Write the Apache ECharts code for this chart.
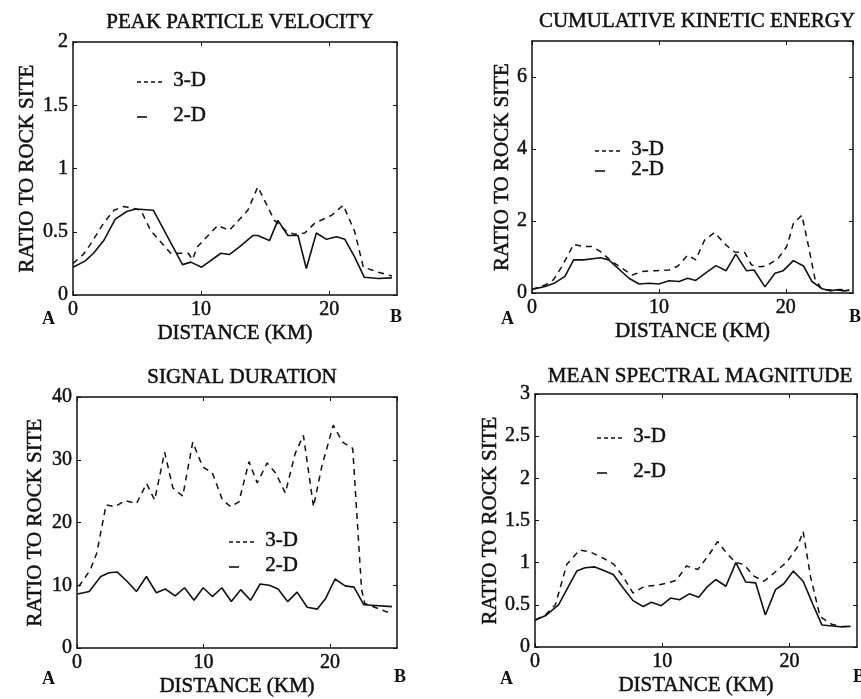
<!DOCTYPE html>
<html lang="en">
<head>
<meta charset="UTF-8">
<title>Ratio to rock site</title>
<script src="https://cdn.jsdelivr.net/npm/echarts@6/dist/echarts.min.js"></script>
<style>
body{margin:0;padding:0;background:#fff;}
#main{width:861px;height:699px;}
</style>
</head>
<body>
<div id="main"></div>
<script type="text/javascript">
// peak particle velocity
var ppvKm2d = [0, 0.96, 1.6, 2.4, 3.3, 4.2, 4.9, 6.27, 8.55, 9.2, 10.04, 11.55, 12.2, 13.0, 14.04, 14.43, 15.34, 16.0, 16.78, 17.57, 18.22, 19.0, 19.8, 20.57, 21.23, 22.0, 22.75, 23.84, 24.9];
var ppv2d   = [0.22, 0.27, 0.33, 0.43, 0.6, 0.66, 0.68, 0.67, 0.24, 0.26, 0.22, 0.33, 0.32, 0.38, 0.47, 0.47, 0.43, 0.59, 0.47, 0.47, 0.21, 0.49, 0.44, 0.46, 0.44, 0.30, 0.14, 0.13, 0.135];
var ppvKm3d = [0, 0.8, 1.36, 2.4, 3.2, 3.97, 4.9, 5.3, 6.06, 7.63, 8.4, 9.0, 9.33, 9.7, 11.3, 12.2, 13.65, 14.43, 15.73, 16.7, 17.3, 18.1, 18.9, 20.2, 21.1, 22.0, 22.67, 23.85, 24.9];
var ppv3d   = [0.25, 0.32, 0.4, 0.57, 0.67, 0.70, 0.68, 0.67, 0.51, 0.33, 0.33, 0.33, 0.28, 0.38, 0.55, 0.51, 0.67, 0.855, 0.59, 0.50, 0.48, 0.49, 0.57, 0.63, 0.71, 0.50, 0.22, 0.18, 0.15];

// cumulative kinetic energy
var ckeKm2d = [0, 1.03, 1.8, 2.6, 3.28, 4.07, 5.4, 6.05, 7.64, 8.44, 9.23, 10.0, 10.8, 11.6, 12.27, 12.9, 13.86, 14.5, 15.3, 16.06, 16.9, 17.5, 18.36, 19.15, 19.8, 20.6, 21.4, 22.06, 22.85, 23.5, 24.0, 24.6, 25.0];
var cke2d   = [0.1, 0.18, 0.28, 0.46, 0.92, 0.92, 0.98, 0.92, 0.41, 0.25, 0.27, 0.25, 0.34, 0.32, 0.41, 0.35, 0.6, 0.76, 0.62, 1.08, 0.62, 0.64, 0.17, 0.55, 0.62, 0.9, 0.75, 0.32, 0.12, 0.06, 0.09, 0.06, 0.08];
var ckeKm3d = [0, 1.03, 1.7, 2.35, 3.28, 4.07, 4.7, 5.4, 6.3, 7.9, 8.7, 9.76, 10.8, 11.5, 12.27, 12.9, 13.6, 14.39, 15.3, 15.97, 16.77, 17.3, 17.96, 18.5, 19.4, 20.08, 20.6, 21.27, 21.8, 22.3, 22.85, 23.6, 24.3, 25.0];
var cke3d   = [0.1, 0.22, 0.37, 0.73, 1.35, 1.29, 1.29, 1.15, 0.87, 0.5, 0.6, 0.62, 0.64, 0.75, 1.05, 0.92, 1.47, 1.68, 1.33, 1.14, 1.12, 0.78, 0.73, 0.75, 0.96, 1.29, 1.93, 2.16, 1.29, 0.4, 0.1, 0.08, 0.1, 0.07];

// signal duration
var sdKm2d = [0.05, 0.96, 1.88, 2.53, 3.19, 3.97, 4.7, 5.49, 6.27, 6.98, 7.76, 8.5, 9.25, 9.98, 10.7, 11.45, 12.2, 12.94, 13.72, 14.48, 15.2, 15.9, 16.65, 17.4, 18.2, 19.0, 19.66, 20.4, 21.2, 21.9, 22.67, 24.9];
var sd2d   = [8.6, 9.0, 11.4, 12.0, 12.1, 10.6, 9.0, 11.4, 8.8, 9.4, 8.3, 9.6, 7.6, 9.6, 8.2, 9.6, 7.4, 9.3, 7.6, 10.2, 10.0, 9.4, 7.4, 8.9, 6.5, 6.2, 7.9, 11.0, 9.9, 9.7, 6.9, 6.6];
var sdKm3d = [0.13, 1.04, 1.56, 2.3, 3.0, 3.8, 4.7, 5.5, 6.14, 6.93, 7.58, 8.36, 9.15, 9.93, 10.7, 11.5, 12.16, 12.8, 13.6, 14.25, 15.03, 15.7, 16.47, 17.25, 17.9, 18.7, 19.35, 20.26, 21.0, 21.8, 22.5, 22.75, 24.05, 24.97];
var sd3d   = [9.8, 12.4, 15.1, 22.8, 22.5, 23.5, 23.0, 26.2, 23.6, 31.2, 25.5, 24.2, 32.8, 28.9, 27.9, 23.6, 22.5, 23.3, 29.7, 26.3, 29.5, 27.9, 24.7, 31.0, 33.9, 22.5, 28.9, 35.5, 32.8, 31.8, 9.3, 7.1, 6.1, 5.4];

// mean spectral magnitude
var msmKm2d = [0.03, 0.81, 1.85, 2.63, 3.28, 3.93, 4.7, 5.36, 6.15, 6.93, 7.7, 8.5, 9.14, 9.92, 10.65, 11.35, 12.13, 12.86, 13.57, 14.2, 15.0, 15.78, 16.56, 17.34, 18.1, 18.9, 19.55, 20.3, 21.07, 21.85, 22.55, 24.0, 24.8];
var msm2d   = [0.32, 0.37, 0.5, 0.72, 0.9, 0.94, 0.95, 0.91, 0.86, 0.7, 0.55, 0.48, 0.53, 0.49, 0.58, 0.56, 0.63, 0.59, 0.72, 0.8, 0.72, 1.0, 0.77, 0.76, 0.38, 0.68, 0.75, 0.9, 0.78, 0.5, 0.26, 0.24, 0.245];
var msmKm3d = [0.03, 0.81, 1.6, 2.5, 3.5, 4.3, 5.4, 6.2, 6.9, 7.7, 8.6, 9.5, 10.4, 11.1, 11.9, 12.8, 13.7, 14.35, 15.13, 15.78, 16.4, 17.2, 17.99, 18.8, 19.8, 20.6, 21.07, 21.64, 22.4, 23.3, 24.1, 24.8];
var msm3d   = [0.32, 0.38, 0.5, 0.98, 1.15, 1.13, 1.05, 0.98, 0.84, 0.64, 0.72, 0.73, 0.76, 0.79, 0.96, 0.92, 1.1, 1.25, 1.1, 1.0, 0.98, 0.84, 0.78, 0.88, 1.01, 1.18, 1.37, 0.84, 0.36, 0.27, 0.24, 0.245];

var titles = ['PEAK PARTICLE VELOCITY', 'CUMULATIVE KINETIC ENERGY', 'SIGNAL DURATION', 'MEAN SPECTRAL MAGNITUDE'];
var yMax = [2, 7, 40, 3];
var yStep = [0.5, 2, 10, 0.5];
var xTicks = 10;
var xMax = 25.3;

var FONT = 'Liberation Serif';
var INK = '#111';
// scanned print looks a bit heavy, thicken text with a thin outline
var heavy = {textBorderColor: INK, textBorderWidth: 0.5};

var panels = [
    {left: 73,  top: 42,  width: 324, height: 253, km2: ppvKm2d, v2: ppv2d, km3: ppvKm3d, v3: ppv3d, gap: 35,
     leg: [137, 82, 117], title: [235, 7], ab: [48, 397, 320]},
    {left: 532, top: 41,  width: 321, height: 252, km2: ckeKm2d, v2: cke2d, km3: ckeKm3d, v3: cke3d, gap: 19,
     leg: [595, 151, 171], title: [692, 6], ab: [507, 856, 320]},
    {left: 77,  top: 397, width: 320, height: 251, km2: sdKm2d, v2: sd2d, km3: sdKm3d, v3: sd3d, gap: 31,
     leg: [229, 542, 567], title: [237, 362], ab: [48, 401, 680]},
    {left: 535, top: 394, width: 322, height: 253, km2: msmKm2d, v2: msm2d, km3: msmKm3d, v3: msm3d, gap: 34,
     leg: [597, 438, 473], title: [695, 361], ab: [506, 860, 680]}
];

function zip(a, b) {
    return a.map(function (x, i) { return [x, b[i]]; });
}

function txt(size) {
    return Object.assign({fontFamily: FONT, fontSize: size, fontWeight: 'normal', color: INK}, heavy);
}

var option = {
    animation: false,
    backgroundColor: '#fff',
    textStyle: {fontFamily: FONT, color: INK},
    title: [], grid: [], xAxis: [], yAxis: [], series: [], graphic: []
};

panels.forEach(function (p, i) {
    option.title.push({
        text: titles[i], left: p.title[0], top: p.title[1], textAlign: 'center',
        textStyle: txt(21)
    });
    option.grid.push({left: p.left, top: p.top, width: p.width, height: p.height, show: false});

    var tick = {show: true, inside: true, length: 4, lineStyle: {color: INK, width: 1}};
    var line = {show: true, onZero: false, lineStyle: {color: INK, width: 1.5}};
    var xName = txt(21);
    xName.verticalAlign = 'top';
    option.xAxis.push({
        type: 'value', gridIndex: i, min: 0, max: xMax, interval: xTicks,
        name: 'DISTANCE (KM)', nameLocation: 'middle', nameGap: 28,
        nameTextStyle: xName,
        axisLine: line, axisTick: tick, splitLine: {show: false},
        axisLabel: Object.assign(txt(20), {margin: 5, showMaxLabel: false})
    });
    option.xAxis.push({
        type: 'value', gridIndex: i, position: 'top', min: 0, max: xMax, interval: xTicks,
        axisLine: line, axisTick: tick, splitLine: {show: false}, axisLabel: {show: false}
    });
    option.yAxis.push({
        type: 'value', gridIndex: i, min: 0, max: yMax[i], interval: yStep[i],
        name: 'RATIO TO ROCK SITE', nameLocation: 'middle', nameGap: p.gap,
        nameTextStyle: txt(21),
        axisLine: line, axisTick: tick, splitLine: {show: false},
        axisLabel: Object.assign(txt(20), {margin: 5, showMaxLabel: i !== 1})
    });
    option.yAxis.push({
        type: 'value', gridIndex: i, position: 'right', min: 0, max: yMax[i], interval: yStep[i],
        axisLine: line, axisTick: tick, splitLine: {show: false}, axisLabel: {show: false}
    });

    option.series.push({
        name: '3-D', type: 'line', xAxisIndex: i * 2, yAxisIndex: i * 2,
        data: zip(p.km3, p.v3), symbol: 'none',
        lineStyle: {color: INK, width: 1.5, type: [6, 5]}
    });
    option.series.push({
        name: '2-D', type: 'line', xAxisIndex: i * 2, yAxisIndex: i * 2,
        data: zip(p.km2, p.v2), symbol: 'none',
        lineStyle: {color: INK, width: 1.6}
    });

    // legend drawn by hand, like the original figure
    var lx = p.leg[0];
    var tstyle = {font: '21px "Liberation Serif"', fill: INK, stroke: INK, lineWidth: 0.5};
    option.graphic.push(
        {type: 'line', shape: {x1: lx, y1: p.leg[1], x2: lx + 26, y2: p.leg[1]},
         style: {stroke: INK, lineWidth: 1.4, lineDash: [4, 3]}},
        {type: 'text', left: lx + 36, top: p.leg[1] - 12, style: Object.assign({text: '3-D'}, tstyle)},
        {type: 'line', shape: {x1: lx, y1: p.leg[2], x2: lx + 10, y2: p.leg[2]},
         style: {stroke: INK, lineWidth: 1.6}},
        {type: 'text', left: lx + 36, top: p.leg[2] - 12, style: Object.assign({text: '2-D'}, tstyle)},
        {type: 'text', left: p.ab[0] - 6, top: p.ab[2] - 10,
         style: {text: 'A', font: 'bold 18px "Liberation Serif"', fill: INK}},
        {type: 'text', left: p.ab[1] - 7, top: p.ab[2] - 12,
         style: {text: 'B', font: 'bold 18px "Liberation Serif"', fill: INK}}
    );
});

var myChart = echarts.init(document.getElementById('main'));
myChart.setOption(option);
</script>
</body>
</html>
